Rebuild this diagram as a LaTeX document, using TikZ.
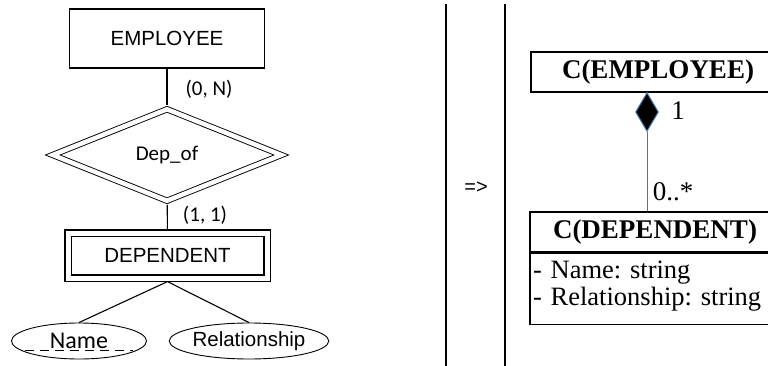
\documentclass[tikz,border=0pt]{standalone}
\usepackage{fontspec}
\setmainfont{Liberation Serif}
\newfontfamily\arialfont{Liberation Sans}
\newfontfamily\calfont{Carlito}
\usetikzlibrary{shapes}
\usetikzlibrary{shapes.geometric}
\usepackage{xcolor}
\definecolor{diablue}{RGB}{79,129,189}
\definecolor{linkgray}{RGB}{110,110,110}
\frenchspacing

\tikzset{
    erbox/.style={draw, line width=1.2pt, minimum width=195pt, minimum height=59pt, inner sep=0pt, font=\arialfont\fontsize{20.5}{24}\selectfont},
    erweak/.style={draw, line width=1.1pt, double, double distance=5pt, outer sep=3.6pt, inner sep=0pt, font=\arialfont\fontsize{20.5}{24}\selectfont},
    errel/.style={diamond, draw, line width=0.9pt, double, double distance=4.5pt, outer sep=3pt, inner sep=0pt, font=\calfont\fontsize{21}{24}\selectfont},
    erattr/.style={ellipse, draw, line width=0.9pt, minimum height=36pt, inner sep=0pt},
    card/.style={font=\calfont\fontsize{21}{24}\selectfont},
    umlhead/.style={draw, line width=1.3pt, minimum height=40pt, inner sep=0pt, font=\bfseries\fontsize{27}{30}\selectfont},
    umlbody/.style={draw, line width=1.3pt, anchor=north west, inner xsep=3pt, inner ysep=8pt, align=left, font=\fontsize{26.5}{27}\selectfont},
    umlmult/.style={font=\fontsize{27}{30}\selectfont},
    partline/.style={line width=2pt},
}

\begin{document}
\begin{tikzpicture}[x=1pt, y=-1pt]
    \useasboundingbox (0,0) rectangle (768,366);
    \def\xer{167};
    \def\xuml{647};
    % E-R side
    \node[erbox] at (\xer, 38.5) (EMP) {EMPLOYEE};
    \node[errel, minimum width=231pt, minimum height=94pt] at (\xer, 155) (DEPOF) {Dep\_of};
    \node[erweak, minimum width=199pt, minimum height=45pt] at (\xer+0.5, 255.5) (DEP) {DEPENDENT};
    \node[erattr, minimum width=135pt, font=\calfont\fontsize{24}{26}\selectfont] at (79, 341) (NAME) {Name};
    \node[erattr, minimum width=146pt, font=\arialfont\fontsize{20.5}{24}\selectfont] at (249, 341) (REL) {Relationship};
    \node[card] at (209, 89) (C0N) {(0, N)};
    \node[card] at (205, 215) (C11) {(1, 1)};
    \draw[line width=1.1pt] (EMP) -- (DEPOF);
    \draw[line width=1.1pt] (DEPOF) -- (DEP);
    \draw[line width=1.1pt] (DEP.south) -- (NAME.north);
    \draw[line width=1.1pt] (DEP.south) -- (REL.north);
    \draw[line width=1pt, dash pattern=on 9pt off 6pt] (25, 350) -- (133, 350);
    % separator
    \coordinate (S1a) at (446, 4);
    \coordinate (S1b) at (446, 366);
    \coordinate (S2a) at (505, 4);
    \coordinate (S2b) at (505, 366);
    \draw[partline] (S1a) -- (S1b);
    \draw[partline] (S2a) -- (S2b);
    \node[font=\arialfont\fontsize{20}{24}\selectfont] at (476, 188) (ARR) {=>};
    % UML side
    \node[umlhead, minimum width=254pt] at (658, 72) (CEMP) {C(EMPLOYEE)};
    \node[diamond, draw=diablue, fill=black, line width=1pt, minimum width=23pt, minimum height=39pt, inner sep=0pt, anchor=north] at (\xuml, 92) (COMP) {};
    \node[umlhead, minimum width=250pt] at (655, 232) (CDEP) {C(DEPENDENT)};
    \node[umlbody, text width=245pt] at (CDEP.south west) (CDEPA) {- Name: string\\- Relationship: string\rule[-11pt]{0pt}{1pt}};
    \draw[linkgray, line width=1pt] (COMP.south) -- (COMP.south |- CDEP.north);
    \node[umlmult] at (678, 111) (M1) {1};
    \node[umlmult] at (673, 192) (M0) {0..*};
\end{tikzpicture}
\end{document}
